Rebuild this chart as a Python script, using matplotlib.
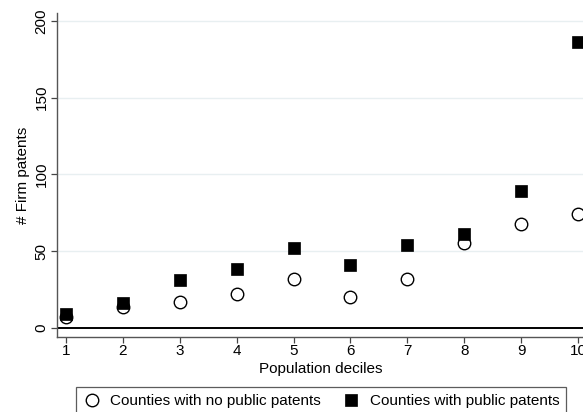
import matplotlib
matplotlib.use("Agg")
import matplotlib.pyplot as plt

plt.rcParams['font.family'] = ['Liberation Sans', 'DejaVu Sans']

# data
deciles = [1, 2, 3, 4, 5, 6, 7, 8, 9, 10]
no_public = [7, 13.5, 17, 22, 32, 20, 32, 55.5, 68, 74]
with_public = [9, 16, 31, 38.5, 52, 41, 54, 61, 89, 186]
yticks = [0, 50, 100, 150, 200]

W, H = 583, 412
fig = plt.figure(figsize=(W / 100, H / 100), dpi=100)
fig.patch.set_facecolor('white')

# axes runs off the right edge, like the original
ax = fig.add_axes([57 / W, 1 - 337 / H, 545 / W, (337 - 13) / H])
ax.set_xlim(0.842, 10.42)
ax.set_ylim(-5.9, 205.2)

ax.set_yticks(yticks)
ax.set_xticks(deciles)
ax.set_yticklabels([str(t) for t in yticks], rotation=90, va='center')
ax.tick_params(axis='both', labelsize=11, color='#444444', length=4, width=0.9)
ax.tick_params(axis='y', pad=2)
ax.tick_params(axis='x', pad=1)

for t in yticks[1:]:
    ax.axhline(t, color='#e8eff1', lw=1.0, zorder=0)
ax.axhline(0, color='black', lw=1.4, zorder=1)

for side in ['top', 'right']:
    ax.spines[side].set_visible(False)
for side in ['left', 'bottom']:
    ax.spines[side].set_color('#555555')
    ax.spines[side].set_linewidth(1.0)

ax.plot(deciles, no_public, 'o', ms=9, mfc='white', mec='black', mew=1.0,
        label='Counties with no public patents', zorder=3, clip_on=False)
ax.plot(deciles, with_public, 's', ms=8.5, mfc='black', mec='black', mew=0.5,
        label='Counties with public patents', zorder=4, clip_on=False)

ax.set_xlabel('Population deciles', fontsize=11)
ax.set_ylabel('# Firm patents', fontsize=11, labelpad=3)
ax.xaxis.set_label_coords((321 - 57) / 545, -(362 - 337) / (337 - 13))

handles, labels = ax.get_legend_handles_labels()
leg = fig.legend(handles, labels, loc='upper center', ncol=2,
                 bbox_to_anchor=(321 / W, 1 - 387 / H),
                 borderaxespad=0, fancybox=False, fontsize=11,
                 handletextpad=0.6, columnspacing=1.4, handlelength=1.2,
                 borderpad=0.45)
leg.get_frame().set_edgecolor('#333333')
leg.get_frame().set_linewidth(0.9)

fig.savefig('out.png', dpi=100)
